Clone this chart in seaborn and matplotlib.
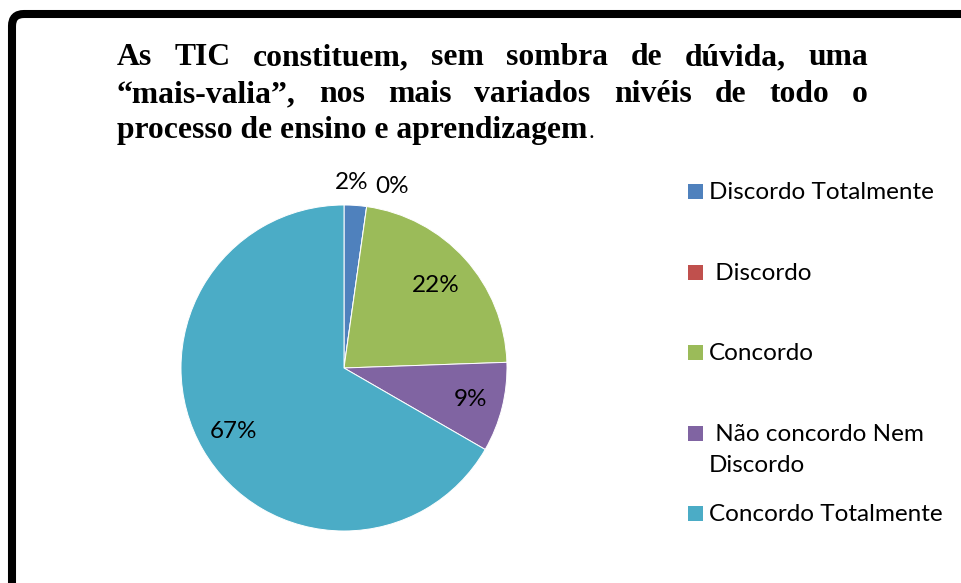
import matplotlib
matplotlib.use("Agg")
import matplotlib.pyplot as plt
from matplotlib.patches import FancyBboxPatch, Rectangle
import numpy as np
import seaborn as sns

# data
categories = ["Discordo Totalmente", " Discordo", "Concordo",
              " Não concordo Nem\nDiscordo", "Concordo Totalmente"]
responses = [1, 0, 10, 4, 30]
colors = ["#4F81BD", "#C0504D", "#9BBB59", "#8064A2", "#4BACC6"]

title_lines = ["As TIC constituem, sem sombra de dúvida, uma",
               "“mais-valia”, nos mais variados nivéis de todo o",
               "processo de ensino e aprendizagem"]

sns.set_style("white")
plt.rcParams['font.family'] = ['Lato', 'DejaVu Sans']
plt.rcParams['text.color'] = 'black'

W, H = 962, 583
fig = plt.figure(figsize=(W / 100, H / 100), dpi=100)
fig.patch.set_facecolor('white')
renderer = fig.canvas.get_renderer()

# frame (only top and left are visible in the crop)
border = FancyBboxPatch((12 / 100, -0.5), 11.0, 569 / 100 + 0.5,
                        boxstyle="round,pad=0,rounding_size=0.12",
                        transform=fig.dpi_scale_trans, fill=False,
                        edgecolor='black', linewidth=5.8)
fig.add_artist(border)

# pie
cx, cy, r = 344, 368, 163
ax = fig.add_axes([(cx - r) / W, (H - cy - r) / H, 2 * r / W, 2 * r / H])
palette = sns.color_palette(colors)
wedges, _ = ax.pie(responses, colors=palette, startangle=90, counterclock=False,
                   radius=1, wedgeprops=dict(edgecolor='white', linewidth=0.7))
ax.set_xlim(-1, 1)
ax.set_ylim(-1, 1)
ax.set_aspect('equal')
ax.axis('off')

total = sum(responses)
label_dist = [1.14, 1.15, 0.76, 0.80, 0.78]
label_shift = [1.5, -7, 0, 0, 0]
for w, v, d, s in zip(wedges, responses, label_dist, label_shift):
    ang = np.deg2rad((w.theta1 + w.theta2) / 2 + s)
    ax.text(d * np.cos(ang), d * np.sin(ang), f"{v / total * 100:.0f}%",
            ha='center', va='center', fontsize=17.5, color='black', clip_on=False)

# title, justified like the Word text box
tfont = dict(family='Liberation Serif', weight='bold', size=22.8, color='black')
x0, x1 = 117, 868
baselines = [65, 102, 138]
for i, line in enumerate(title_lines):
    y = 1 - baselines[i] / H
    if i < len(title_lines) - 1:
        words = line.split()
        texts = [fig.text(0, y, wd, va='baseline', ha='left', **tfont) for wd in words]
        widths = [t.get_window_extent(renderer).width for t in texts]
        gap = (x1 - x0 - sum(widths)) / (len(words) - 1)
        x = x0
        for t, wd in zip(texts, widths):
            t.set_x(x / W)
            x += wd + gap
    else:
        t = fig.text(x0 / W, y, line, va='baseline', ha='left', **tfont)
        wd = t.get_window_extent(renderer).width
        fig.text((x0 + wd + 1) / W, y, ".", va='baseline', ha='left',
                 family='Liberation Serif', size=17, color='black')

# legend
legend_baselines = [199, 280, 360, 441, 521]
line_step = 31
for lab, col, yb in zip(categories, palette, legend_baselines):
    fig.add_artist(Rectangle((688 / W, 1 - yb / H), 15 / W, 15 / H,
                             transform=fig.transFigure, facecolor=col,
                             edgecolor='none'))
    for k, part in enumerate(lab.split("\n")):
        fig.text(709 / W, 1 - (yb + k * line_step) / H, part, va='baseline',
                 ha='left', fontsize=17.5, color='black')

fig.savefig('out.png', dpi=100)
